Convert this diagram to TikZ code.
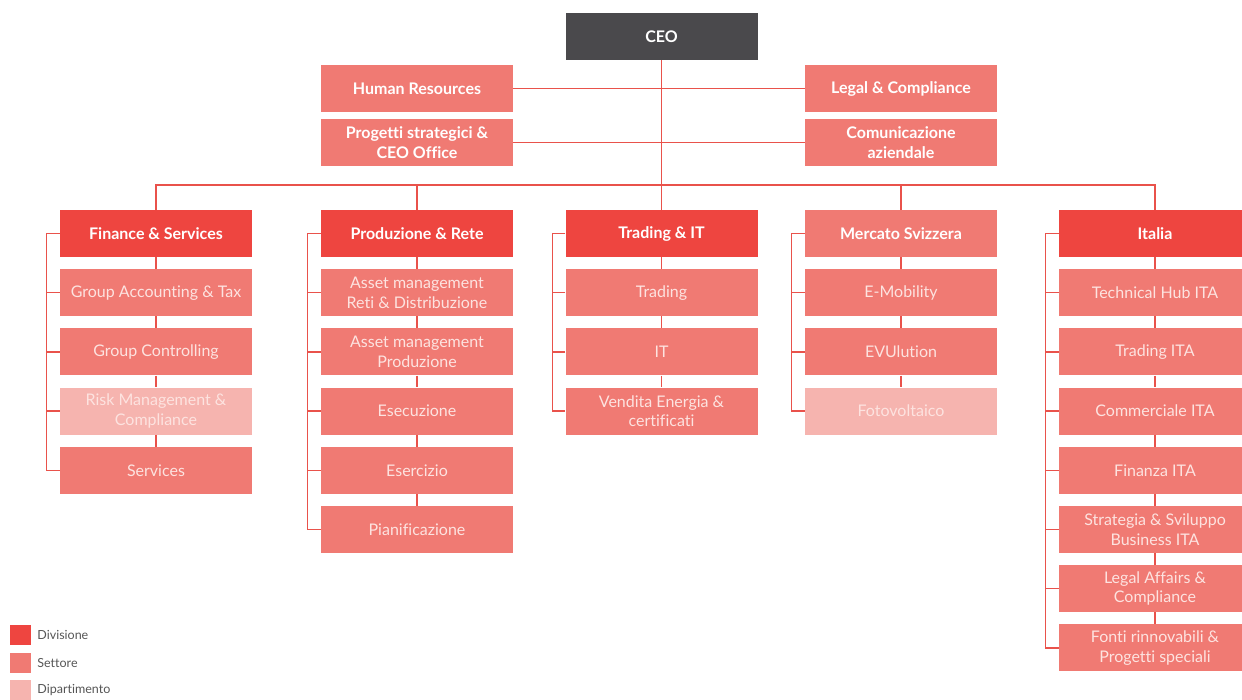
\documentclass[tikz,border=0pt]{standalone}
\usepackage{fontspec}
\setmainfont{Lato}[Ligatures=NoCommon]
\usetikzlibrary{positioning}

\definecolor{ceogray}{HTML}{4A494C}
\definecolor{divred}{HTML}{EE4540}
\definecolor{setred}{HTML}{F07A73}
\definecolor{diprose}{HTML}{F6B4AF}
\definecolor{linered}{HTML}{E9524B}
\definecolor{settext}{HTML}{FDE3E0}
\definecolor{legtext}{HTML}{555555}

\tikzset{
  box/.style={minimum width=192pt, minimum height=47pt, inner sep=2pt,
    align=center, font=\fontsize{16}{19.5}\selectfont},
  ceobox/.style={box, fill=ceogray, text=white, font=\fontsize{16}{19.5}\selectfont\bfseries},
  divbox/.style={box, fill=divred, text=white, font=\fontsize{16}{19.5}\selectfont\bfseries},
  staffbox/.style={box, fill=setred, text=white, font=\fontsize{16}{19.5}\selectfont\bfseries},
  setbox/.style={box, fill=setred, text=settext},
  dipbox/.style={box, fill=diprose, text=settext},
  link/.style={draw=linered, line width=1.3pt},
  legsq/.style={minimum width=21pt, minimum height=20pt, inner sep=0pt},
  legtxt/.style={right, text=legtext, font=\fontsize{12.5}{14}\selectfont, inner sep=0pt}
}

\begin{document}
\begin{tikzpicture}[x=1pt, y=-1pt]
    \useasboundingbox (0,0) rectangle (1242,699);

    % Top level
    \node[ceobox] (ceo) at (661.5,36.5) {CEO};
    \node[staffbox] (hr) at (417,88.5) {Human Resources};
    \node[staffbox] (legal) at (901,88.5) {Legal \& Compliance};
    \node[staffbox] (prog) at (417,142.5) {Progetti strategici \&\\CEO Office};
    \node[staffbox] (com) at (901,142.5) {Comunicazione\\aziendale};

    % Divisions
    \node[divbox] (fin) at (156,233.5) {Finance \& Services};
    \node[divbox] (prod) at (417,233.5) {Produzione \& Rete};
    \node[divbox] (trad) at (661.5,233.5) {Trading \& IT};
    \node[staffbox] (merc) at (901,233.5) {Mercato Svizzera};
    \node[divbox] (ita) at (1155,233.5) {Italia};

    % Finance & Services
    \node[setbox] (fin1) at (156,292.7) {Group Accounting \& Tax};
    \node[setbox] (fin2) at (156,351.9) {Group Controlling};
    \node[dipbox] (fin3) at (156,411.1) {Risk Management \&\\Compliance};
    \node[setbox] (fin4) at (156,470.3) {Services};

    % Produzione & Rete
    \node[setbox] (prod1) at (417,292.7) {Asset management\\Reti \& Distribuzione};
    \node[setbox] (prod2) at (417,351.9) {Asset management\\Produzione};
    \node[setbox] (prod3) at (417,411.1) {Esecuzione};
    \node[setbox] (prod4) at (417,470.3) {Esercizio};
    \node[setbox] (prod5) at (417,529.5) {Pianificazione};

    % Trading & IT
    \node[setbox] (trad1) at (661.5,292.7) {Trading};
    \node[setbox] (trad2) at (661.5,351.9) {IT};
    \node[setbox] (trad3) at (661.5,411.1) {Vendita Energia \&\\certificati};

    % Mercato Svizzera
    \node[setbox] (merc1) at (901,292.7) {E-Mobility};
    \node[setbox] (merc2) at (901,351.9) {EVUlution};
    \node[dipbox] (merc3) at (901,411.1) {Fotovoltaico};

    % Italia
    \node[setbox] (ita1) at (1155,292.7) {Technical Hub ITA};
    \node[setbox] (ita2) at (1155,351.9) {Trading ITA};
    \node[setbox] (ita3) at (1155,411.1) {Commerciale ITA};
    \node[setbox] (ita4) at (1155,470.3) {Finanza ITA};
    \node[setbox] (ita5) at (1155,529.5) {Strategia \& Sviluppo\\Business ITA};
    \node[setbox] (ita6) at (1155,588.7) {Legal Affairs \&\\Compliance};
    \node[setbox] (ita7) at (1155,647.9) {Fonti rinnovabili \&\\Progetti speciali};

    % Top connectors
    \coordinate (bus) at (661.5,185);
    \draw[link] (ceo.south) -- (bus);
    \draw[link] (hr.east) -- (legal.west);
    \draw[link] (prog.east) -- (com.west);
    \draw[link] (fin.north) |- (bus) -| (ita.north);
    \draw[link] (prod.north) -- (prod.north |- bus);
    \draw[link] (trad.north) -- (bus);
    \draw[link] (merc.north) -- (merc.north |- bus);

    % Column connectors
    \foreach \col/\last in {fin/4, prod/5, trad/3, merc/3, ita/7} {
        \draw[link] (\col.south) -- (\col1.north);
        \draw[link] (\col.west) -- ++(-13,0) |- (\col\last.west);
        \foreach \i [evaluate=\i as \j using int(\i+1)] in {1,...,\numexpr\last-1\relax} {
            \draw[link] (\col\i.south) -- (\col\j.north);
            \draw[link] (\col\i.west) -- ++(-13,0);
        }
    }

    % Legend
    \node[legsq, fill=divred] (ldiv) at (20.5,635) {};
    \node[legsq, fill=setred] (lset) at (20.5,663) {};
    \node[legsq, fill=diprose] (ldip) at (20.5,690) {};
    \node[legtxt] (tdiv) at ([xshift=6pt]ldiv.east) {Divisione};
    \node[legtxt] (tset) at ([xshift=6pt]lset.east) {Settore};
    \node[legtxt] (tdip) at ([xshift=6pt]ldip.east) {Dipartimento};
\end{tikzpicture}
\end{document}
